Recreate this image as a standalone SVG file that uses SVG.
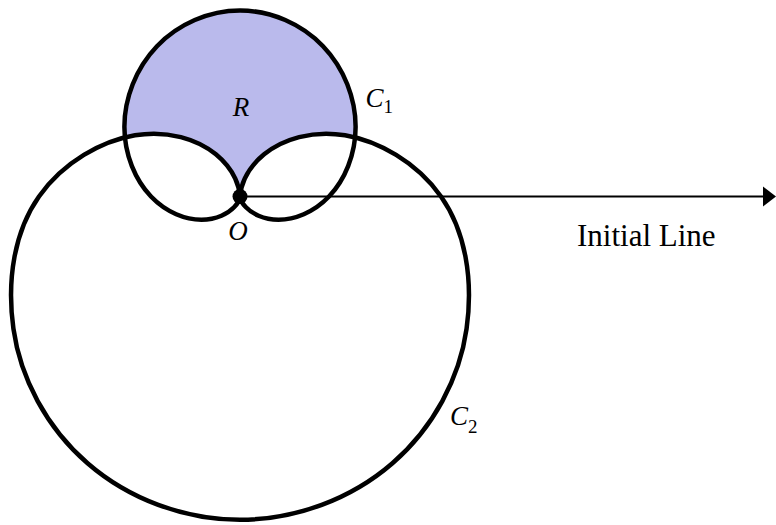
<svg xmlns="http://www.w3.org/2000/svg" width="776" height="525" viewBox="0 0 776 525">
<style>
.curve{fill:none;stroke:#000;stroke-width:4.5;stroke-linejoin:round}
.lbl{font-family:"Liberation Serif","Times New Roman",serif;font-size:27px;fill:#000}
.it{font-style:italic}
.sub{font-size:19px}
.big{font-size:31px}
</style>
<rect width="776" height="525" fill="#fff"/>
<g id="fills">
<path id="c1fill" fill="#BABAEC" d="M240,196.5 C240,196.5 240.28,201.35 245.96,207.29 C251.64,213.23 263.01,219.75 278.54,219.75 C294.07,219.75 313.47,212.73 329,196.5 C344.53,180.27 355.61,154.86 355.61,126.75 C355.61,98.64 344.26,68.38 323.04,46.21 C301.82,24.04 271.07,10.5 240,10.5 C208.93,10.5 178.18,24.04 156.96,46.21 C135.74,68.38 124.39,98.64 124.39,126.75 C124.39,154.86 135.53,180.27 151,196.5 C166.53,212.73 185.93,219.75 201.46,219.75 C216.99,219.75 228.36,213.23 234.04,207.29 C239.72,201.35 240,196.5 240,196.5 Z"/>
<path id="c2fill" fill="#fff" d="M240,519.78 C295.86,519.78 351.35,498.81 392.44,463.2 C433.53,427.59 459.74,377.93 466.59,328.66 C473.44,279.39 465.5,231.23 441,196.5 C416.5,161.77 377.82,140.8 345.02,135.25 C312.22,129.7 282.42,139.31 264.13,154.29 C254.99,161.78 248.57,170.5 244.79,178.45 C241.01,186.4 240,196.5 240,196.5 C240,196.5 238.99,186.4 235.21,178.45 C231.43,170.5 225.01,161.78 215.87,154.29 C197.58,139.31 167.78,129.7 134.98,135.25 C102.18,140.8 63.5,161.77 39,196.5 C14.5,231.23 6.56,279.39 13.41,328.66 C20.26,377.93 46.47,427.59 87.56,463.2 C128.65,498.81 184.14,519.78 240,519.78 Z"/>
</g>
<g id="C1">
<path class="curve" d="M240,196.5 C240,196.5 240.28,201.35 245.96,207.29 C251.64,213.23 263.01,219.75 278.54,219.75 C294.07,219.75 313.47,212.73 329,196.5 C344.53,180.27 355.61,154.86 355.61,126.75 C355.61,98.64 344.26,68.38 323.04,46.21 C301.82,24.04 271.07,10.5 240,10.5 C208.93,10.5 178.18,24.04 156.96,46.21 C135.74,68.38 124.39,98.64 124.39,126.75 C124.39,154.86 135.53,180.27 151,196.5 C166.53,212.73 185.93,219.75 201.46,219.75 C216.99,219.75 228.36,213.23 234.04,207.29 C239.72,201.35 240,196.5 240,196.5 Z"/>
<text class="lbl it" x="365.5" y="107">C</text><text class="lbl sub" x="383.5" y="113">1</text>
</g>
<g id="C2">
<path class="curve" d="M240,519.78 C295.86,519.78 351.35,498.81 392.44,463.2 C433.53,427.59 459.74,377.93 466.59,328.66 C473.44,279.39 465.5,231.23 441,196.5 C416.5,161.77 377.82,140.8 345.02,135.25 C312.22,129.7 282.42,139.31 264.13,154.29 C254.99,161.78 248.57,170.5 244.79,178.45 C241.01,186.4 240,196.5 240,196.5 C240,196.5 238.99,186.4 235.21,178.45 C231.43,170.5 225.01,161.78 215.87,154.29 C197.58,139.31 167.78,129.7 134.98,135.25 C102.18,140.8 63.5,161.77 39,196.5 C14.5,231.23 6.56,279.39 13.41,328.66 C20.26,377.93 46.47,427.59 87.56,463.2 C128.65,498.81 184.14,519.78 240,519.78 Z"/>
<text class="lbl it" x="450" y="425">C</text><text class="lbl sub" x="468" y="433">2</text>
</g>
<g id="R"><text class="lbl it" x="241" y="116" text-anchor="middle">R</text></g>
<g id="connectors">
<line x1="240" y1="196.5" x2="765" y2="196.5" stroke="#000" stroke-width="2"/>
<polygon points="763,186.5 776,196.5 763,206.5" fill="#000"/>
</g>
<g id="O">
<circle cx="240" cy="196.5" r="7.5" fill="#000"/>
<text class="lbl it" x="238" y="240" text-anchor="middle">O</text>
</g>
<g id="initial-line-label"><text class="lbl big" x="577" y="246">Initial Line</text></g>
</svg>
